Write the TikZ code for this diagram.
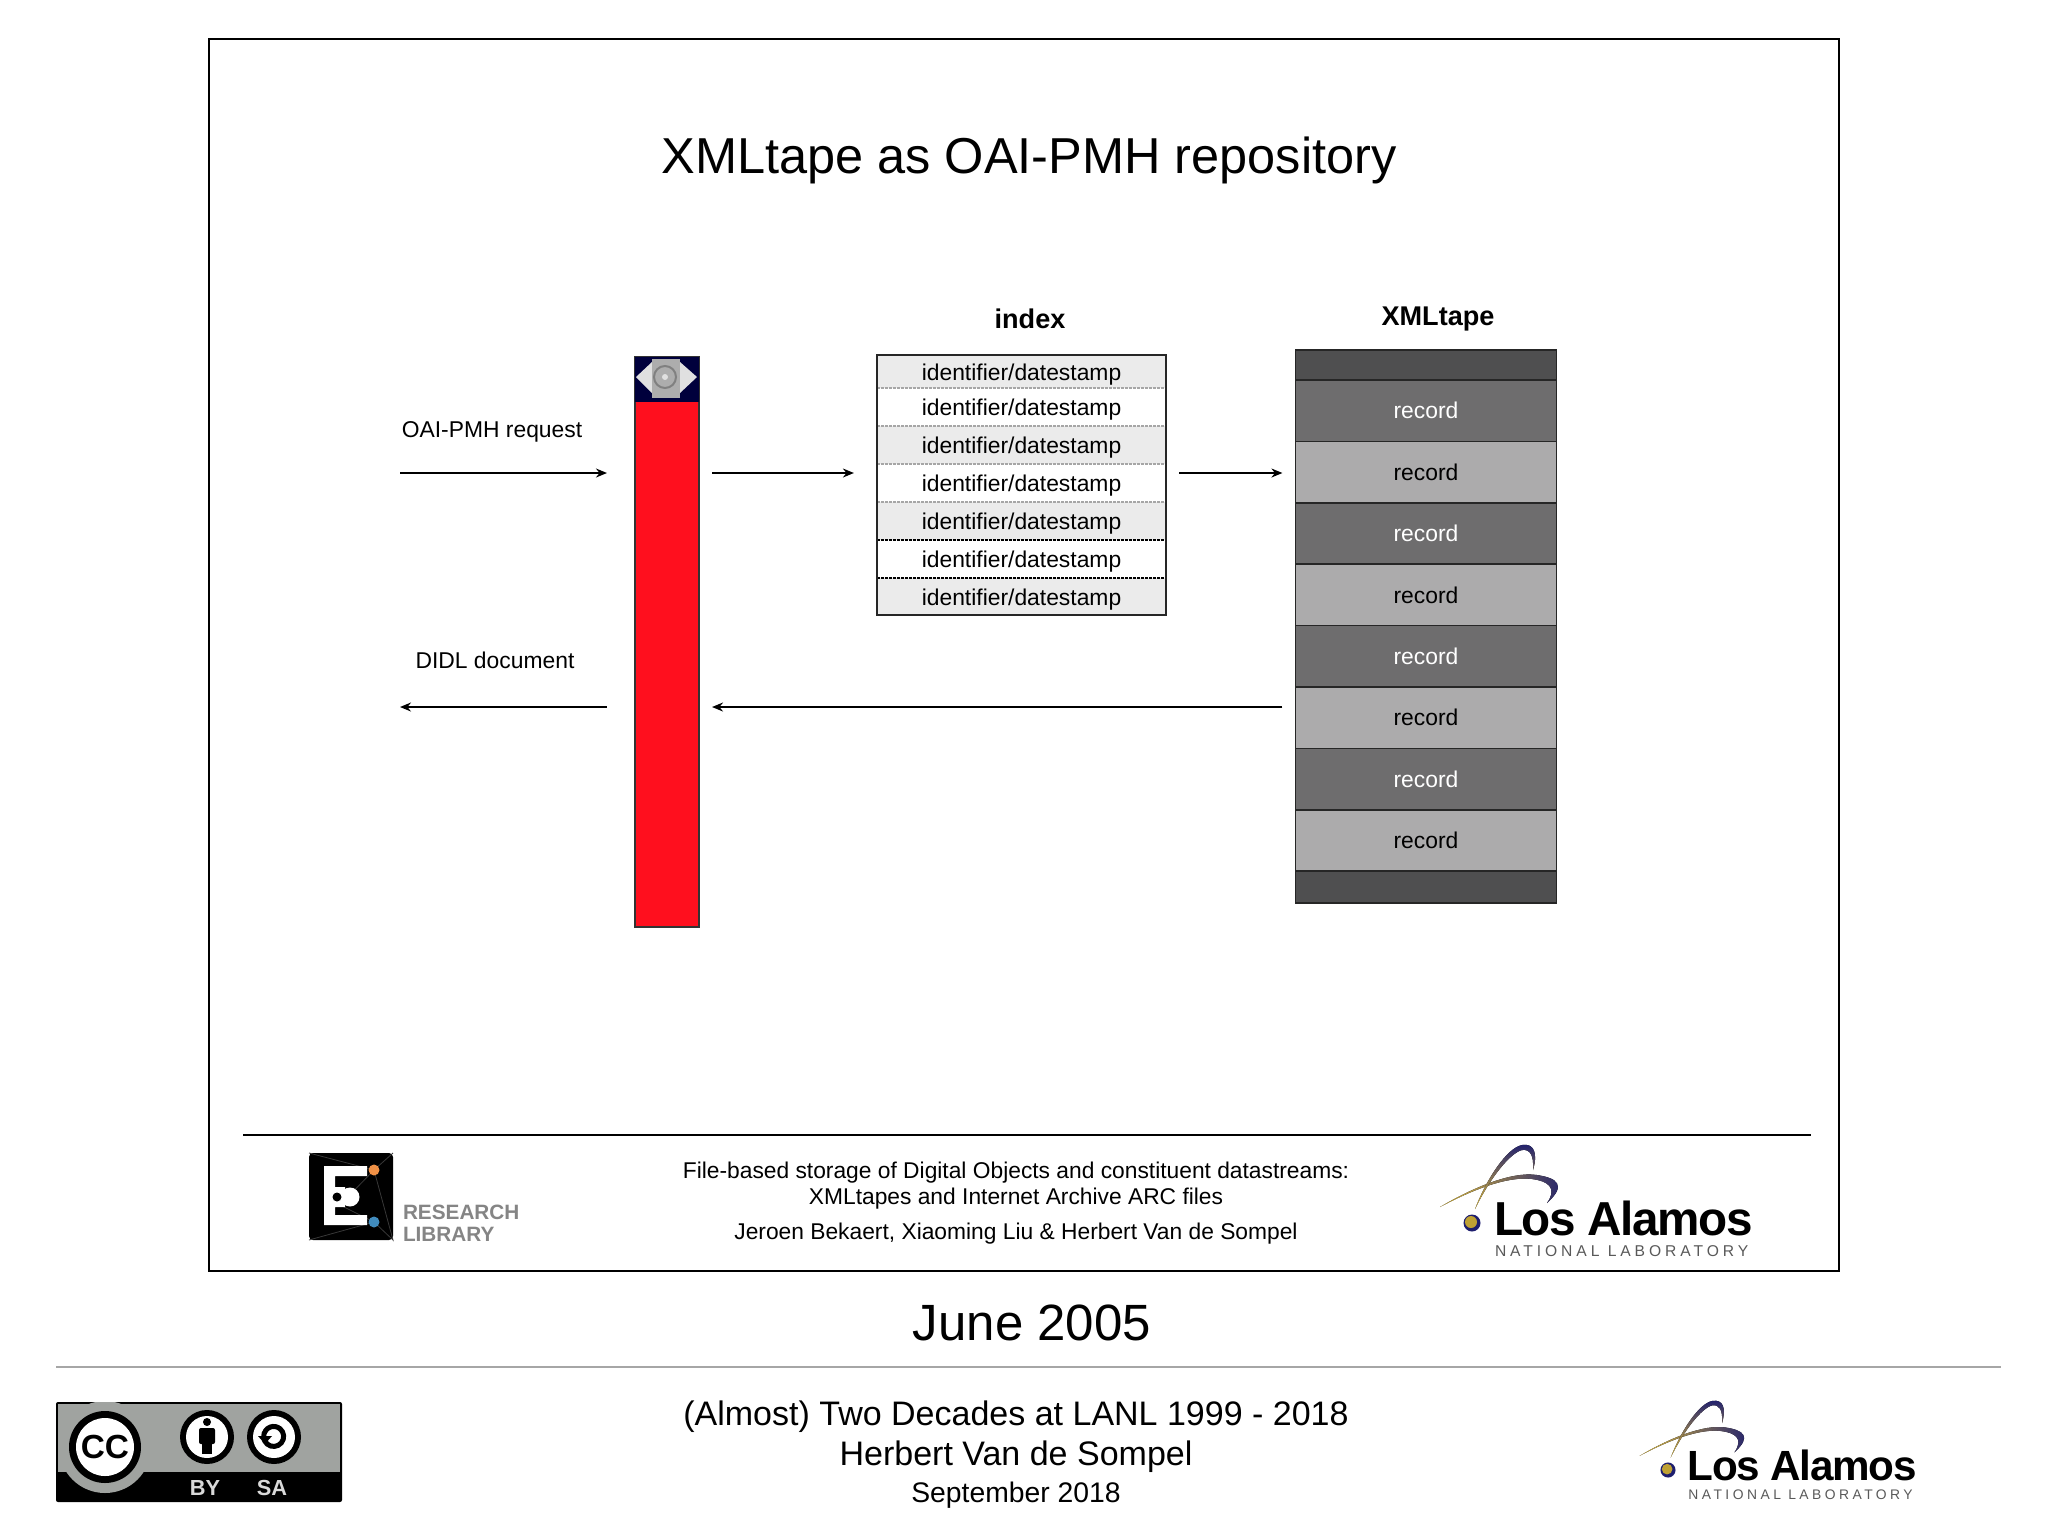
\documentclass[tikz,border=0pt]{standalone}
\usepackage{fontspec}
\setmainfont{Liberation Sans}
\newfontfamily\logofont[LetterSpace=-3]{Liberation Sans}
\newfontfamily\spacedfont[LetterSpace=25]{Liberation Sans}
\usetikzlibrary{arrows.meta, positioning}
\definecolor{recdarkgray}{RGB}{110,109,110}
\definecolor{reclightgray}{RGB}{172,171,172}
\definecolor{tapeend}{RGB}{79,79,80}
\definecolor{rowgray}{RGB}{235,235,235}
\definecolor{barred}{RGB}{255,15,30}
\definecolor{barnavy}{RGB}{0,0,60}
\definecolor{ccgray}{RGB}{160,163,160}
\definecolor{lanlnavy}{RGB}{30,30,110}
\definecolor{lanlgold}{RGB}{225,190,60}
\definecolor{dotorange}{RGB}{240,145,70}
\definecolor{dotblue}{RGB}{65,140,190}
\tikzset{
  px/.style={x=0.01cm, y=-0.01cm},
  plain/.style={inner sep=0pt, outer sep=0pt},
  slabel/.style={plain, font=\fontsize{6.5}{8}\selectfont},
  hlabel/.style={plain, font=\fontsize{7.7}{8}\selectfont\bfseries},
  foot/.style={plain, font=\fontsize{6.48}{8}\selectfont},
  lower/.style={plain, font=\fontsize{9.67}{12}\selectfont},
  flow/.style={-{Stealth[length=0.11cm,width=0.09cm]}, line width=0.015cm, black},
  rowbox/.style={plain, minimum width=2.89cm, slabel},
  rowsep/.style={dashed, dash pattern=on 0.03cm off 0.01cm, line width=0.012cm},
  recbox/.style={plain, draw=black!85, line width=0.015cm, minimum width=2.61cm,
                 minimum height=0.614cm, slabel, text=white},
  recdark/.style={recbox, fill=recdarkgray},
  reclight/.style={recbox, fill=reclightgray, text=black},
  lanl/.pic={
    \fill[lanlnavy] (0,0) circle (8.5);
    \fill[lanlgold!85!black] (-1,-1) circle (6);
    \fill[left color=lanlgold, right color=lanlnavy]
      (-32,-16) .. controls (0,-35) and (40,-52) .. (65,-48)
      .. controls (85,-45) and (95,-38) .. (75,-20)
      .. controls (86,-36) and (75,-42) .. (60,-44)
      .. controls (35,-47) and (0,-33) .. (-32,-16) -- cycle;
    \fill[bottom color=lanlgold, top color=lanlnavy]
      (3,-14) .. controls (15,-45) and (35,-75) .. (50,-78)
      .. controls (62,-80) and (66,-70) .. (61,-53)
      .. controls (62,-68) and (58,-74) .. (50,-73)
      .. controls (38,-70) and (18,-45) .. (3,-14) -- cycle;
    \node[plain, anchor=base west, font=\fontsize{13.55}{16}\logofont\bfseries] (-word) at (22,12) {Los Alamos};
    \node[plain, anchor=base west, text=black!65, font=\fontsize{4.45}{6}\spacedfont] (-sub) at (23,33) {NATIONAL LABORATORY};
  }
}
\begin{document}
\begin{tikzpicture}[px]
  \useasboundingbox (0,0) rectangle (2048,1536);
  \fill[white] (0,0) rectangle (2048,1536);
  % slide frame
  \draw[line width=0.025cm] (209,39) rectangle (1839,1271);
  \node[plain, font=\fontsize{14.36}{18}\selectfont] (title) at (1029,160) {XMLtape as OAI-PMH repository};

  % server bar
  \node[plain, draw=black!80, line width=0.015cm, fill=barred, minimum width=0.64cm,
        minimum height=5.7cm] (bar) at (667,642) {};
  \fill[barnavy] (635,357) rectangle (699,402);
  \fill[black!12] (636,377) -- (652,362) -- (680,362) -- (697,377) -- (680,393) -- (652,393) -- cycle;
  \fill[black!32] (652,359) rectangle (680,398);
  \draw[black!50, line width=0.02cm] (665,377) circle (11);
  \fill[black!12] (665,377) circle (3);

  % index
  \node[hlabel] (indexlabel) at (1030,319) {index};
  \foreach \i/\rowfill/\yc/\rowh in {1/rowgray/371.5/0.33,2/white/407/0.38,3/rowgray/445/0.38,4/white/483/0.38,
                                     5/rowgray/521/0.38,6/white/559/0.38,7/rowgray/596.5/0.37}
    \node[rowbox, fill=\rowfill, minimum height=\rowh cm] (row\i) at (1021.5,\yc) {\raisebox{-0.085cm}[0pt][0pt]{identifier/datestamp}};
  \foreach \i in {1,2,3,4}
    \draw[rowsep, black!35] (row\i.south west) -- (row\i.south east);
  \foreach \i in {5,6}
    \draw[rowsep, black] (row\i.south west) -- (row\i.south east);
  \node[plain, draw=black!85, line width=0.015cm, minimum width=2.89cm, minimum height=2.6cm] (indexbox) at (1021.5,485) {};

  % tape
  \node[hlabel] (tapelabel) at (1438,319) {XMLtape};
  \node[recbox, fill=tapeend, minimum height=0.3cm] (tapetop) at (1426,365) {};
  \foreach \i/\kind in {1/recdark,2/reclight,3/recdark,4/reclight,5/recdark,6/reclight,7/recdark,8/reclight}
    \node[\kind] (rec\i) at (1426,{380+(\i-0.5)*61.4}) {record};
  \node[recbox, fill=tapeend, minimum height=0.32cm] (tapebot) at (1426,887) {};
  \node[plain, minimum width=2.61cm, minimum height=5.52cm] (tape) at (1426,626) {};

  % flows
  \coordinate (upper) at (0,473);
  \coordinate (lower) at (0,707);
  \coordinate (reqin) at (400,473);
  \coordinate (didlout) at (400,707);
  \node[slabel] (reqlabel) at (492,432) {OAI-PMH request};
  \node[slabel] (didllabel) at (495,660) {DIDL document};
  \draw[flow, shorten >=0.28cm] (reqin) -- (bar.west |- upper);
  \draw[flow, shorten <=0.28cm] (bar.west |- lower) -- (didlout);
  \draw[flow, shorten <=0.13cm, shorten >=0.23cm] (bar.east |- upper) -- (indexbox.west |- upper);
  \draw[flow, shorten <=0.13cm, shorten >=0.13cm] (indexbox.east |- upper) -- (tape.west |- upper);
  \draw[flow, shorten <=0.13cm, shorten >=0.13cm] (tape.west |- lower) -- (bar.east |- lower);

  % slide footer
  \draw[line width=0.02cm] (243,1135) -- (1811,1135);
  \node[foot] (foot1) at (1016,1173) {File-based storage of Digital Objects and constituent datastreams:};
  \node[foot] (foot2) at (1016,1199) {XMLtapes and Internet Archive ARC files};
  \node[foot] (foot3) at (1016,1234) {Jeroen Bekaert, Xiaoming Liu \& Herbert Van de Sompel};

  % research library logo
  \fill[black, rounded corners=0.04cm] (309,1153) rectangle (393,1240);
  \draw[black!78, line width=0.008cm] (309,1153) -- (374,1170) -- (393,1240) -- (374,1222) -- (309,1240) (393,1153) -- (374,1170) -- (340,1205) -- (374,1222);
  \fill[white] (324,1166) -- (367,1166) -- (367,1176) -- (335,1176) -- (335,1187) -- (345,1187)
    -- (345,1207) -- (335,1207) -- (335,1215) -- (367,1215) -- (367,1225) -- (324,1225) -- cycle;
  \fill[white] (350,1197) circle (9.5);
  \fill[black] (337,1197) circle (4.5);
  \fill[dotorange] (374,1170) circle (5.5);
  \fill[dotblue] (374,1222) circle (5.5);
  \node[plain, anchor=base west, text=black!48, font=\fontsize{5.9}{7}\selectfont\bfseries] (reslabel) at (403,1219) {RESEARCH};
  \node[plain, anchor=base west, text=black!48, font=\fontsize{5.9}{7}\selectfont\bfseries] (liblabel) at (403,1241) {LIBRARY};

  \pic (toplogo) at (1472,1223) {lanl};

  % caption
  \node[plain, font=\fontsize{14.5}{18}\selectfont] (date) at (1032,1323) {June 2005};
  \draw[black!35, line width=0.015cm] (56,1367) -- (2001,1367);
  \node[lower] (talk) at (1016,1417) {(Almost) Two Decades at LANL 1999 - 2018};
  \node[lower] (speaker) at (1016,1457) {Herbert Van de Sompel};
  \node[plain, font=\fontsize{8.05}{10}\selectfont] (month) at (1016,1495) {September 2018};

  % cc badge
  \fill[black, rounded corners=0.02cm] (56,1402) rectangle (342,1502);
  \fill[ccgray] (58,1404) rectangle (340,1472);
  \begin{scope}
    \clip (56,1402) rectangle (342,1502);
    \fill[ccgray] (105,1447) circle (46);
  \end{scope}
  \fill[black] (105,1447) circle (36);
  \fill[white] (105,1447) circle (29);
  \node[plain, font=\fontsize{9.5}{12}\selectfont\bfseries] (cclabel) at (105,1447) {CC};
  \foreach \cx in {207,274} {
    \fill[black] (\cx,1437) circle (27);
    \fill[white] (\cx,1437) circle (21);
  }
  \fill[black] (207,1422) circle (4);
  \fill[black, rounded corners=0.02cm] (199,1428) rectangle (215,1444);
  \fill[black] (202,1440) rectangle (212,1454);
  \draw[black, line width=0.05cm] (266,1430) arc (220:-150:10);
  \fill[black] (258,1436) -- (272,1436) -- (265,1444) -- cycle;
  \node[plain, text=white!85!black, font=\fontsize{6.2}{7}\selectfont\bfseries] (bylabel) at (205,1488) {BY};
  \node[plain, text=white!85!black, font=\fontsize{6.2}{7}\selectfont\bfseries] (salabel) at (272,1488) {SA};

  \pic[scale=0.886, transform shape] (botlogo) at (1668,1470) {lanl};
\end{tikzpicture}
\end{document}
